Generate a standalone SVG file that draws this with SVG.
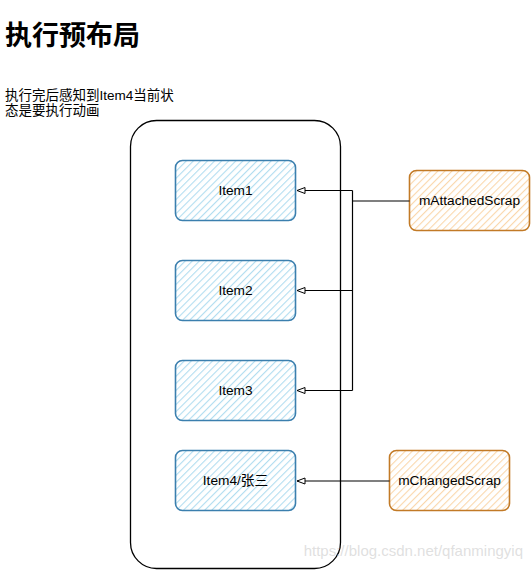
<svg xmlns="http://www.w3.org/2000/svg" width="531" height="571" viewBox="0 0 531 571">
<style>
.t{font-family:"Liberation Sans","Noto Sans CJK SC",sans-serif;fill:#000}
.lbl{font-size:13.7px;text-anchor:middle;dominant-baseline:central}
.blue{fill:url(#hb);stroke:#3b7fae;stroke-width:1.6}
.orange{fill:url(#ho);stroke:#c27a26;stroke-width:1.6}
.conn{fill:none;stroke:#000;stroke-width:1.2}
</style>
<defs>
<pattern id="hb" width="5" height="5" patternUnits="userSpaceOnUse" patternTransform="rotate(45)">
<rect width="5" height="5" fill="#fff"/>
<line x1="0" y1="0" x2="0" y2="5" stroke="#b1ddf0" stroke-width="2.2"/>
</pattern>
<pattern id="ho" width="5" height="5" patternUnits="userSpaceOnUse" patternTransform="rotate(45)">
<rect width="5" height="5" fill="#fff"/>
<line x1="0" y1="0" x2="0" y2="5" stroke="#fad7ac" stroke-width="2.2"/>
</pattern>
<marker id="arr" markerWidth="10" markerHeight="10" refX="9" refY="4" orient="auto" markerUnits="userSpaceOnUse">
<path d="M1,1 L9,4 L1,7 Z" fill="#fff" stroke="#000" stroke-width="1"/>
</marker>
</defs>
<rect width="531" height="571" fill="#fff"/>
<text class="t" x="5" y="45" font-size="27" font-weight="bold">执行预布局</text>
<text class="t" x="5" y="100" font-size="13.5">执行完后感知到Item4当前状</text>
<text class="t" x="5" y="115" font-size="13.5">态是要执行动画</text>
<g id="container">
<rect x="130.5" y="120.5" width="210" height="448" rx="26" fill="none" stroke="#000" stroke-width="1.3"/>
</g>
<g id="item1"><rect class="blue" x="175.5" y="160.5" width="120" height="60" rx="7"/><text class="t lbl" x="235.5" y="190.5">Item1</text></g>
<g id="item2"><rect class="blue" x="175.5" y="260.5" width="120" height="60" rx="7"/><text class="t lbl" x="235.5" y="290.5">Item2</text></g>
<g id="item3"><rect class="blue" x="175.5" y="360.5" width="120" height="60" rx="7"/><text class="t lbl" x="235.5" y="390.5">Item3</text></g>
<g id="item4"><rect class="blue" x="175.5" y="450.5" width="120" height="60" rx="7"/><text class="t lbl" x="235.5" y="480.5">Item4/张三</text></g>
<g id="mAttachedScrap"><rect class="orange" x="409.5" y="170.5" width="120" height="60" rx="7"/><text class="t lbl" x="469.5" y="200.5">mAttachedScrap</text></g>
<g id="mChangedScrap"><rect class="orange" x="389.5" y="450.5" width="120" height="60" rx="7"/><text class="t lbl" x="449.5" y="480.5">mChangedScrap</text></g>
<g id="connectors">
<path class="conn" d="M409.5,201 L352.5,201" stroke-width="2"/>
<path class="conn" d="M352.5,190.5 L352.5,390.5"/>
<path class="conn" d="M352.5,190.5 L297,190.5" marker-end="url(#arr)"/>
<path class="conn" d="M352.5,290.5 L297,290.5" marker-end="url(#arr)"/>
<path class="conn" d="M352.5,390.5 L297,390.5" marker-end="url(#arr)"/>
<path class="conn" d="M389.5,481 L297,481" marker-end="url(#arr)"/>
</g>
<text x="523" y="556" font-family="Liberation Sans,sans-serif" font-size="15" fill="#d8d8d8" fill-opacity="0.8" text-anchor="end">https://blog.csdn.net/qfanmingyiq</text>
</svg>
